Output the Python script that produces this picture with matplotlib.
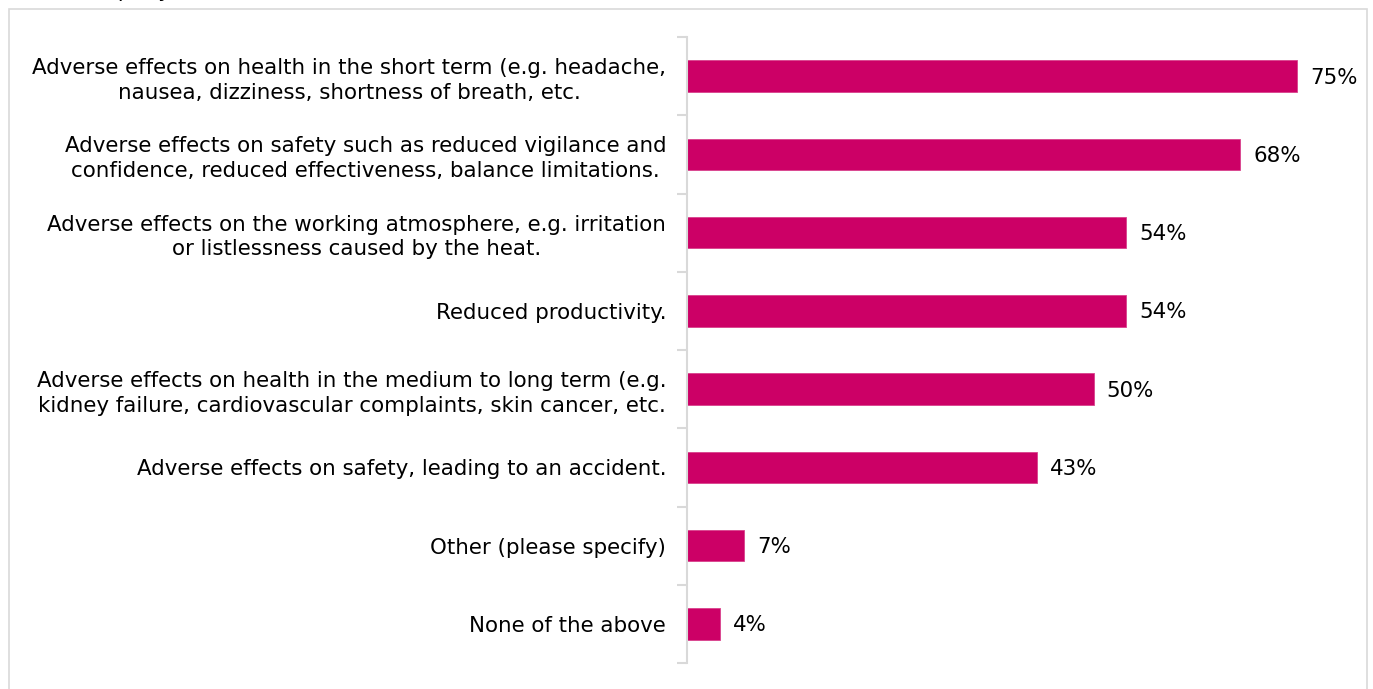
import matplotlib
matplotlib.use("Agg")
import matplotlib.pyplot as plt
from matplotlib.patches import Rectangle
from matplotlib.ticker import FixedLocator

categories = [
    "Adverse effects on health in the short term (e.g. headache,\nnausea, dizziness, shortness of breath, etc.",
    "Adverse effects on safety such as reduced vigilance and\nconfidence, reduced effectiveness, balance limitations.",
    "Adverse effects on the working atmosphere, e.g. irritation\nor listlessness caused by the heat.",
    "Reduced productivity.",
    "Adverse effects on health in the medium to long term (e.g.\nkidney failure, cardiovascular complaints, skin cancer, etc.",
    "Adverse effects on safety, leading to an accident.",
    "Other (please specify)",
    "None of the above",
]
values = [75, 68, 54, 54, 50, 43, 7, 4]
value_labels = ["75%", "68%", "54%", "54%", "50%", "43%", "7%", "4%"]

W, H = 1373, 689
FS = 15.4
fig = plt.figure(figsize=(W / 100, H / 100), dpi=100)

# outer frame
fig.patches.append(Rectangle((9 / W, -0.05), (1367 - 9) / W, 1.05 - 9 / H,
                             transform=fig.transFigure, fill=False,
                             edgecolor="#D9D9D9", linewidth=1.2))

# partially visible title at the top (cut off in the reference)
fig.text(72 / W, 1 + 3 / H, "company (n = 1,000)", ha="left", va="baseline",
         fontsize=FS, color="#000000")

ppp = 8.133  # pixels per percent
xmax = 80
left_px, top_px, bottom_px = 687, 37, 663
ax = fig.add_axes([left_px / W, 1 - bottom_px / H, xmax * ppp / W, (bottom_px - top_px) / H])

n = len(categories)
ypos = list(range(n))
ax.barh(ypos, values, height=0.4, color="#CC0066", edgecolor="#D9418C", linewidth=0.6)
ax.set_xlim(0, xmax)
ax.set_ylim(n - 0.5, -0.5)

for y, v, lab in zip(ypos, values, value_labels):
    ax.text(v + 13 / ppp, y + 0.02, lab, va="center", ha="left", fontsize=FS, color="#000000")

ax.set_yticks(ypos)
ax.set_yticklabels(categories, fontsize=FS, color="#000000", linespacing=1.3,
                   multialignment="center")
ax.tick_params(axis="y", which="major", length=0, pad=15)
ax.yaxis.set_minor_locator(FixedLocator([i - 0.5 for i in range(n + 1)]))
ax.tick_params(axis="y", which="minor", length=7, width=1.5, color="#D9D9D9")
ax.set_xticks([])

for s in ["top", "right", "bottom"]:
    ax.spines[s].set_visible(False)
ax.spines["left"].set_color("#D9D9D9")
ax.spines["left"].set_linewidth(1.5)

fig.savefig("out.png", dpi=100)
